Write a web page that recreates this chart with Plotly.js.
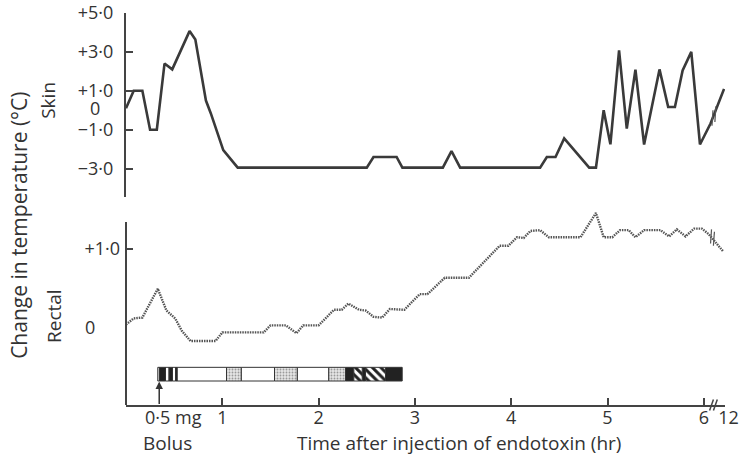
<!DOCTYPE html>
<html>
<head>
<meta charset="utf-8">
<script src="https://cdn.plot.ly/plotly-3.0.1.min.js"></script>
<style>html,body{margin:0;padding:0;background:#fff;}#chart{width:742px;height:459px;}</style>
</head>
<body>
<div id="chart"></div>
<script>
// Skin temperature change (deg C) vs time (hr)
var skinTime = [0.0, 0.08, 0.17, 0.25, 0.32, 0.40, 0.48, 0.66, 0.72, 0.83, 0.88, 1.01, 1.16, 2.50, 2.57, 2.81, 2.87, 3.29, 3.38, 3.47, 4.30, 4.37, 4.46, 4.55, 4.81, 4.88, 4.96, 5.03, 5.12, 5.20, 5.29, 5.38, 5.54, 5.63, 5.70, 5.78, 5.87, 5.96, 6.07, 6.21];
var skinValues = [0.1, 1.0, 1.0, -1.0, -1.0, 2.4, 2.1, 4.07, 3.64, 0.5, -0.15, -2.05, -2.95, -2.95, -2.4, -2.4, -2.95, -2.95, -2.1, -2.95, -2.95, -2.4, -2.4, -1.45, -2.95, -2.95, 0.0, -1.75, 3.08, -0.94, 2.09, -1.76, 2.1, 0.17, 0.17, 2.05, 3.0, -1.76, -0.68, 1.1];

// Rectal temperature change (deg C) vs time (hr)
var rectalTime = [0.0, 0.08, 0.17, 0.33, 0.42, 0.51, 0.58, 0.67, 0.93, 1.0, 1.43, 1.50, 1.66, 1.77, 1.84, 2.0, 2.16, 2.24, 2.31, 2.42, 2.49, 2.57, 2.66, 2.74, 2.89, 3.05, 3.13, 3.31, 3.56, 3.88, 3.97, 4.06, 4.13, 4.20, 4.30, 4.39, 4.72, 4.88, 4.96, 5.05, 5.13, 5.22, 5.29, 5.38, 5.55, 5.64, 5.72, 5.81, 5.90, 5.98, 6.05, 6.20];
var rectalValues = [0.03, 0.11, 0.12, 0.49, 0.21, 0.11, -0.05, -0.18, -0.18, -0.07, -0.07, 0.02, 0.02, -0.08, 0.02, 0.02, 0.22, 0.22, 0.30, 0.22, 0.21, 0.13, 0.12, 0.23, 0.22, 0.42, 0.42, 0.63, 0.63, 1.04, 1.04, 1.15, 1.14, 1.23, 1.24, 1.15, 1.15, 1.46, 1.15, 1.15, 1.24, 1.24, 1.15, 1.24, 1.24, 1.16, 1.25, 1.16, 1.26, 1.26, 1.19, 0.97];

// Segmented state bar under the rectal trace
var barStarts = [0.330, 0.347, 0.410, 0.447, 0.483, 0.514, 0.530, 1.044, 1.196, 1.542, 1.778, 2.106, 2.279, 2.366, 2.453, 2.487, 2.695];
var barEnds   = [0.347, 0.410, 0.447, 0.483, 0.514, 0.530, 1.044, 1.196, 1.542, 1.778, 2.106, 2.279, 2.366, 2.453, 2.487, 2.695, 2.868];
var barKinds  = ['white','black','white','black','white','black','white','stipple','white','stipple','white','stipple','black','hatch','black','hatch','black'];
var barLevel = -0.605;

// Axis ticks
var xTickVals = [1, 2, 3, 4, 5, 6, 6.21];
var xTickText = ['1', '2', '3', '4', '5', '6', '\u200212'];
var skinTickVals = [5, 3, 1, -1, -3];
var skinTickText = ['+5·0', '+3·0', '+1·0', '−1·0', '−3·0'];
var rectalTickVals = [1];
var rectalTickText = ['+1·0'];

var ink = '#3a3a3a';
var fam = '"Open Sans", Lato, sans-serif';
var font = {family: fam, size: 18, color: '#333'};
var titleFont = {family: fam, size: 21, color: '#333'};
var labelFont = {family: fam, size: 19, color: '#333'};

var kindStyle = {
  white:   {color: '#ffffff', pattern: {shape: ''}},
  black:   {color: '#222222', pattern: {shape: ''}},
  stipple: {color: '#e0e0e0', pattern: {shape: '.', fgcolor: '#999', bgcolor: '#e6e6e6', size: 3, solidity: 0.3, fillmode: 'replace'}},
  hatch:   {color: '#ffffff', pattern: {shape: '\\', fgcolor: '#222', bgcolor: '#ffffff', size: 6, solidity: 0.5, fillmode: 'replace'}}
};

function barTrace(kind) {
  var idx = [];
  barKinds.forEach(function(k, i){ if (k === kind) idx.push(i); });
  var st = kindStyle[kind];
  var marker = {color: st.color, line: {color: '#333', width: 1}};
  if (st.pattern.shape) marker.pattern = st.pattern;
  return {type: 'bar', orientation: 'h', xaxis: 'x', yaxis: 'y',
    base: idx.map(function(i){ return barStarts[i]; }),
    x: idx.map(function(i){ return barEnds[i] - barStarts[i]; }),
    y: idx.map(function(){ return barLevel; }),
    width: 0.175, marker: marker, hoverinfo: 'skip'};
}

var traces = [
  {x: skinTime, y: skinValues, xaxis: 'x', yaxis: 'y2', type: 'scatter', mode: 'lines',
   line: {color: ink, width: 2.6}, hoverinfo: 'skip'},
  {x: rectalTime, y: rectalValues, xaxis: 'x', yaxis: 'y', type: 'scatter', mode: 'lines',
   line: {color: '#555', width: 2.4, dash: '1.5px,1px'}, hoverinfo: 'skip'},
  barTrace('white'), barTrace('black'), barTrace('stipple'), barTrace('hatch')
];

var axisCommon = {showline: true, linecolor: '#444', linewidth: 2, ticks: 'inside', ticklen: 7, tickwidth: 2,
  tickcolor: '#444', showgrid: false, zeroline: false, tickfont: font, fixedrange: true, ticklabeloverflow: 'allow', tickangle: 0};

var layout = {
  width: 742, height: 459,
  margin: {l: 126, r: 17, t: 13, b: 54},
  paper_bgcolor: '#fff', plot_bgcolor: '#fff',
  showlegend: false, barmode: 'overlay',
  font: font,
  xaxis: Object.assign({}, axisCommon, {range: [0, 6.22], tickmode: 'array', tickvals: xTickVals, ticktext: xTickText, anchor: 'y', ticklabelstandoff: -5}),
  yaxis: Object.assign({}, axisCommon, {showline: false, domain: [0, 0.5077], range: [-1.0, 1.55], tickmode: 'array', tickvals: rectalTickVals, ticktext: rectalTickText, anchor: 'x', ticklabelstandoff: 5}),
  yaxis2: Object.assign({}, axisCommon, {domain: [0.5306, 1], range: [-4.46, 5.0], tickmode: 'array', tickvals: skinTickVals, ticktext: skinTickText, anchor: 'x', ticklabelstandoff: 7}),
  shapes: [
    // rectal y-axis line (ends below the data peak)
    {type: 'line', xref: 'paper', yref: 'y', x0: 0, x1: 0, y0: -1.0, y1: 1.346, line: {color: '#444', width: 2}},
    // axis break marks on the time axis
    {type: 'line', xref: 'x', yref: 'paper', x0: 6.06, x1: 6.10, y0: -0.014, y1: 0.014, line: {color: '#444', width: 1.5}},
    {type: 'line', xref: 'x', yref: 'paper', x0: 6.10, x1: 6.14, y0: -0.014, y1: 0.014, line: {color: '#444', width: 1.5}},
    // break marks on the traces
    {type: 'line', xref: 'x', yref: 'y2', x0: 6.085, x1: 6.095, y0: -0.8, y1: 0.0, line: {color: '#555', width: 1.2}},
    {type: 'line', xref: 'x', yref: 'y2', x0: 6.115, x1: 6.125, y0: -0.6, y1: 0.2, line: {color: '#555', width: 1.2}},
    {type: 'line', xref: 'x', yref: 'y', x0: 6.07, x1: 6.08, y0: 1.07, y1: 1.25, line: {color: '#555', width: 1.2}},
    {type: 'line', xref: 'x', yref: 'y', x0: 6.10, x1: 6.11, y0: 1.04, y1: 1.22, line: {color: '#555', width: 1.2}}
  ],
  annotations: [
    {text: 'Change in temperature (°C)', xref: 'paper', yref: 'paper', x: 0, y: 0.457, xshift: -107, textangle: -90, showarrow: false, font: titleFont, xanchor: 'center', yanchor: 'middle'},
    {text: 'Skin', xref: 'paper', yref: 'paper', x: 0, y: 0.776, xshift: -78, textangle: -90, showarrow: false, font: labelFont, xanchor: 'center', yanchor: 'middle'},
    {text: 'Rectal', xref: 'paper', yref: 'paper', x: 0, y: 0.227, xshift: -72, textangle: -90, showarrow: false, font: labelFont, xanchor: 'center', yanchor: 'middle'},
    {text: '0', xref: 'paper', yref: 'y2', x: 0, y: 0.1, xshift: -31, showarrow: false, font: font, xanchor: 'center', yanchor: 'middle'},
    {text: '0', xref: 'paper', yref: 'y', x: 0, y: 0, xshift: -36, showarrow: false, font: font, xanchor: 'center', yanchor: 'middle'},
    {text: '0·5 mg', xref: 'x', yref: 'paper', x: 0.49, y: 0, yshift: -12, showarrow: false, font: font, xanchor: 'center', yanchor: 'middle'},
    {text: 'Bolus', xref: 'x', yref: 'paper', x: 0.436, y: 0, yshift: -38, showarrow: false, font: labelFont, xanchor: 'center', yanchor: 'middle'},
    {text: 'Time after injection of endotoxin (hr)', xref: 'x', yref: 'paper', x: 3.46, y: 0, yshift: -38, showarrow: false, font: labelFont, xanchor: 'center', yanchor: 'middle'},
    {text: '', xref: 'x', yref: 'y', x: 0.345, y: -0.70, ax: 0, ay: 24, showarrow: true, arrowhead: 2, arrowsize: 1, arrowwidth: 1.5, arrowcolor: '#333'}
  ]
};

Plotly.newPlot('chart', traces, layout, {staticPlot: true, displayModeBar: false});
</script>
</body>
</html>
